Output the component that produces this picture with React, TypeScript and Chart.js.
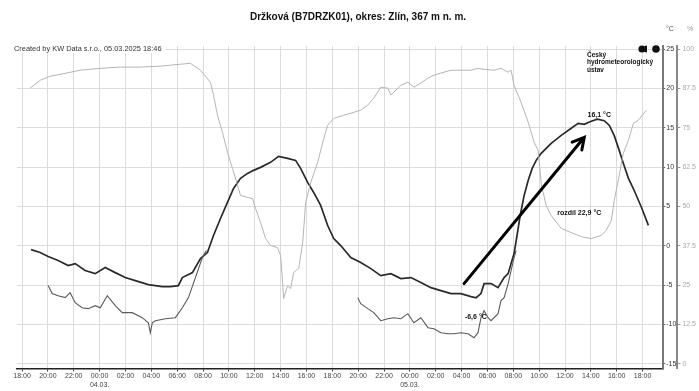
import React, { useEffect, useRef } from "react";
import { Chart, registerables } from "chart.js";

Chart.register(...registerables);

const TITLE = "Držková (B7DRZK01), okres: Zlín, 367 m n. m.";
const CREDIT = "Created by KW Data s.r.o., 05.03.2025 18:46";
const LOGO_LINES = ["Český", "hydrometeorologický", "ústav"];
const UNIT_T = "°C";
const UNIT_H = "%";
const MAX_LABEL = "16,1 °C";
const MIN_LABEL = "-6,6 °C";
const DIFF_LABEL = "rozdíl 22,9 °C";

// hours counted from 03.03. 18:00
const START_HOUR = 18;
const DATE_LABELS: Record<number, string> = { 6: "04.03.", 30: "05.03." };

const tempHours = [0.7, 1.4, 2.02, 2.79, 3.57, 4.11, 4.88, 5.66, 6.43, 7.21, 7.98, 8.76, 9.77, 10.85, 11.47, 12.09, 12.4, 13.18, 13.8, 14.34, 14.81, 15.35, 15.89, 16.36, 16.9, 17.44, 17.91, 18.45, 19.22, 19.84, 20.54, 21.16, 21.55, 22.09, 22.56, 23.1, 23.64, 24.11, 24.65, 25.43, 26.2, 26.98, 27.75, 28.53, 29.3, 30.08, 30.85, 31.63, 32.4, 33.18, 33.95, 34.73, 35.12, 35.5, 35.74, 36.28, 36.82, 37.29, 37.6, 37.83, 38.06, 38.29, 38.53, 38.84, 39.15, 39.46, 39.77, 40.16, 40.93, 41.71, 42.48, 43.02, 43.49, 44.03, 44.5, 45.04, 45.43, 45.81, 46.2, 46.51, 46.9, 47.36, 47.91, 48.45];
const tempValues = [-0.48, -0.86, -1.37, -1.88, -2.52, -2.26, -3.15, -3.54, -2.77, -3.41, -4.04, -4.43, -4.94, -5.19, -5.19, -5.06, -4.04, -3.41, -1.62, -0.86, 1.31, 3.47, 5.51, 7.29, 8.57, 9.2, 9.59, 9.97, 10.61, 11.37, 11.11, 10.86, 9.84, 8.06, 6.78, 5.13, 2.58, 0.92, 0.03, -1.5, -2.13, -2.9, -3.79, -3.54, -4.17, -4.04, -4.68, -5.32, -5.7, -6.08, -6.08, -6.46, -6.6, -6.08, -4.81, -4.81, -5.32, -4.04, -3.54, -2.26, -0.99, 1.31, 3.85, 6.4, 8.31, 9.84, 10.86, 11.75, 13.03, 14.04, 14.94, 15.57, 15.45, 15.83, 16.1, 15.9, 15.3, 14.0, 12.1, 10.5, 8.6, 7.0, 4.9, 2.6];

const humHours = [0.62, 1.4, 2.17, 2.95, 4.5, 6.05, 7.6, 9.15, 10.7, 12.25, 13.02, 13.8, 14.57, 14.81, 15.12, 15.5, 15.89, 16.28, 16.67, 16.9, 17.44, 17.83, 18.06, 18.45, 18.84, 19.22, 19.77, 20.0, 20.16, 20.23, 20.54, 20.78, 21.01, 21.4, 21.71, 21.94, 22.33, 22.87, 23.26, 23.64, 24.11, 24.88, 25.66, 26.2, 26.74, 27.21, 27.75, 28.29, 28.53, 29.3, 29.84, 30.31, 30.85, 31.4, 31.86, 32.4, 33.18, 33.95, 34.73, 35.27, 35.74, 36.51, 37.05, 37.6, 37.83, 38.06, 38.6, 39.15, 39.61, 39.92, 40.16, 40.54, 40.93, 41.71, 42.48, 43.26, 44.03, 44.81, 45.19, 45.58, 45.81, 46.12, 46.51, 46.9, 47.29, 47.67, 48.29];
const humValues = [87.6, 90.1, 91.4, 92.0, 93.3, 93.9, 94.3, 94.3, 94.6, 95.2, 95.5, 93.3, 89.5, 85.4, 79.0, 73.6, 67.2, 62.1, 56.7, 53.5, 52.9, 52.5, 49.4, 44.9, 39.8, 37.6, 36.9, 34.4, 25.8, 20.7, 24.8, 23.9, 29.0, 30.3, 38.5, 51.3, 57.6, 64.0, 70.4, 75.8, 78.0, 79.0, 79.9, 80.6, 82.2, 84.4, 87.9, 87.6, 85.4, 88.5, 89.5, 87.9, 89.2, 90.8, 91.7, 92.4, 93.3, 93.3, 93.3, 93.9, 93.6, 93.3, 93.9, 92.7, 93.3, 88.5, 83.1, 76.8, 70.4, 67.8, 57.3, 50.3, 47.1, 43.0, 41.7, 40.4, 39.8, 40.8, 42.4, 45.5, 51.9, 58.3, 66.9, 71.0, 76.4, 77.4, 80.6];

const groundHoursNight1 = [2.02, 2.33, 2.79, 3.33, 3.72, 4.11, 4.65, 5.12, 5.66, 6.05, 6.59, 7.21, 7.75, 8.53, 9.3, 9.77, 9.92, 10.08, 10.31, 11.09, 11.86, 12.4, 12.87, 13.41, 13.95, 14.26];
const groundValuesNight1 = [-5.06, -6.08, -6.34, -6.59, -5.96, -7.23, -7.87, -7.99, -7.61, -7.87, -6.34, -7.61, -8.5, -8.5, -9.14, -9.78, -11.05, -9.78, -9.52, -9.27, -9.14, -7.87, -6.59, -4.04, -1.5, -0.6];
const groundHoursNight2 = [25.97, 26.2, 26.74, 27.21, 27.75, 28.29, 28.76, 29.3, 29.84, 30.31, 30.85, 31.4, 31.86, 32.4, 32.95, 33.41, 33.95, 34.5, 34.96, 35.27, 35.5, 35.74, 36.05, 36.28, 36.82, 37.05, 37.29, 37.6, 37.83, 38.06, 38.22];
const groundValuesNight2 = [-6.59, -7.36, -7.99, -8.5, -9.52, -9.27, -9.14, -9.27, -8.63, -9.78, -9.14, -10.41, -10.54, -11.05, -11.18, -11.18, -11.05, -11.18, -11.69, -11.05, -9.14, -8.25, -9.14, -9.52, -8.63, -6.97, -6.59, -4.81, -3.15, -1.5, -0.6];

const FONT = "'Liberation Sans', Arial, sans-serif";

const pts = (xs: number[], ys: number[]) => xs.map((x, i) => ({ x, y: ys[i] }));

const overlay = {
  id: "overlay",
  afterDraw(chart: any) {
    const ctx = chart.ctx as CanvasRenderingContext2D;
    const x = chart.scales.x;
    const yT = chart.scales.yT;
    ctx.save();
    // title
    ctx.fillStyle = "#111";
    ctx.font = `bold 10px ${FONT}`;
    ctx.textAlign = "center";
    ctx.textBaseline = "middle";
    ctx.fillText(TITLE, 358, 17);
    // units
    ctx.font = `7px ${FONT}`;
    ctx.fillStyle = "#555";
    ctx.fillText(UNIT_T, 670, 29);
    ctx.fillStyle = "#999";
    ctx.fillText(UNIT_H, 690, 29);
    // credit
    ctx.font = `7.4px ${FONT}`;
    ctx.textAlign = "left";
    const cw = ctx.measureText(CREDIT).width;
    ctx.fillStyle = "#fff";
    ctx.fillRect(12, 45, cw + 6, 8);
    ctx.fillStyle = "#333";
    ctx.fillText(CREDIT, 14, 49);
    // logo
    ctx.fillStyle = "#111";
    ctx.beginPath();
    ctx.arc(642, 49, 3.6, 0, Math.PI * 2);
    ctx.fill();
    ctx.beginPath();
    ctx.arc(647, 49, 3.6, Math.PI / 2, Math.PI * 1.5);
    ctx.fill();
    ctx.beginPath();
    ctx.arc(656, 49, 3.8, 0, Math.PI * 2);
    ctx.fill();
    ctx.font = `bold 6.5px ${FONT}`;
    LOGO_LINES.forEach((t, i) => ctx.fillText(t, 587, 55 + i * 7.5));
    // arrow
    const ax0 = x.getPixelForValue(34.19), ay0 = yT.getPixelForValue(-4.81);
    const ax1 = x.getPixelForValue(43.49), ay1 = yT.getPixelForValue(13.79);
    ctx.strokeStyle = "#000";
    ctx.lineWidth = 3;
    ctx.lineCap = "round";
    ctx.beginPath();
    ctx.moveTo(ax0, ay0);
    ctx.lineTo(ax1, ay1);
    const ang = Math.atan2(ay1 - ay0, ax1 - ax0);
    const L = 13;
    ctx.moveTo(ax1 - L * Math.cos(ang - 0.5), ay1 - L * Math.sin(ang - 0.5));
    ctx.lineTo(ax1, ay1);
    ctx.lineTo(ax1 - L * Math.cos(ang + 0.5), ay1 - L * Math.sin(ang + 0.5));
    ctx.stroke();
    // labels
    ctx.font = `bold 7px ${FONT}`;
    ctx.textAlign = "center";
    ctx.fillStyle = "#111";
    ctx.fillText(MAX_LABEL, x.getPixelForValue(44.65), yT.getPixelForValue(16.6));
    ctx.fillText(DIFF_LABEL, x.getPixelForValue(43.1), yT.getPixelForValue(4.1));
    ctx.fillText(MIN_LABEL, x.getPixelForValue(35.1), yT.getPixelForValue(-9.0));
    ctx.restore();
  },
};

export default function App() {
  const ref = useRef<HTMLCanvasElement | null>(null);
  useEffect(() => {
    if (!ref.current) return;
    const chart = new Chart(ref.current, {
      type: "line",
      data: {
        datasets: [
          {
            data: pts(humHours, humValues),
            yAxisID: "yH",
            borderColor: "#b4b4b4",
            borderWidth: 1,
            pointRadius: 0,
            tension: 0,
          },
          {
            data: pts(groundHoursNight1, groundValuesNight1),
            yAxisID: "yT",
            borderColor: "#5a5a5a",
            borderWidth: 1.1,
            pointRadius: 0,
            tension: 0,
          },
          {
            data: pts(groundHoursNight2, groundValuesNight2),
            yAxisID: "yT",
            borderColor: "#5a5a5a",
            borderWidth: 1.1,
            pointRadius: 0,
            tension: 0,
          },
          {
            data: pts(tempHours, tempValues),
            yAxisID: "yT",
            borderColor: "#2a2a2a",
            borderWidth: 1.7,
            pointRadius: 0,
            tension: 0,
          },
        ],
      },
      options: {
        animation: false,
        responsive: false,
        devicePixelRatio: 1,
        layout: { padding: { left: 17, top: 46, right: 1, bottom: 2 } },
        plugins: { legend: { display: false }, tooltip: { enabled: false } },
        scales: {
          x: {
            type: "linear",
            min: -0.39,
            max: 49.6,
            border: { color: "#222", width: 1.5 },
            grid: { color: "#dcdcdc", tickColor: "#444", tickLength: 3, lineWidth: 1 },
            ticks: {
              stepSize: 2,
              includeBounds: false,
              autoSkip: false,
              maxRotation: 0,
              padding: 0,
              color: "#444",
              font: { size: 7, family: FONT, lineHeight: 1.25 },
              callback: (v: any) => {
                const hr = (START_HOUR + Number(v)) % 24;
                const lab = `${String(hr).padStart(2, "0")}:00`;
                const d = DATE_LABELS[Number(v)];
                return d ? [lab, d] : lab;
              },
            },
          },
          yT: {
            type: "linear",
            position: "right",
            min: -15.6,
            max: 25.4,
            border: { color: "#777", width: 2 },
            grid: { color: "#dcdcdc", tickColor: "#666", tickLength: 2 },
            ticks: {
              stepSize: 5,
              includeBounds: false,
              padding: 1,
              color: "#333",
              font: { size: 7, family: FONT },
            },
          },
          yH: {
            type: "linear",
            position: "right",
            min: -1.5,
            max: 101,
            border: { color: "#888", width: 2 },
            grid: { drawOnChartArea: false, tickColor: "#999", tickLength: 3 },
            ticks: {
              stepSize: 12.5,
              includeBounds: false,
              padding: 2,
              color: "#aaa",
              font: { size: 7, family: FONT },
            },
          },
        },
      },
      plugins: [overlay],
    });
    return () => chart.destroy();
  }, []);
  return (
    <div style={{ position: "absolute", left: 0, top: 0, width: 699, height: 391, background: "#fff" }}>
      <canvas ref={ref} width={699} height={391} />
    </div>
  );
}
